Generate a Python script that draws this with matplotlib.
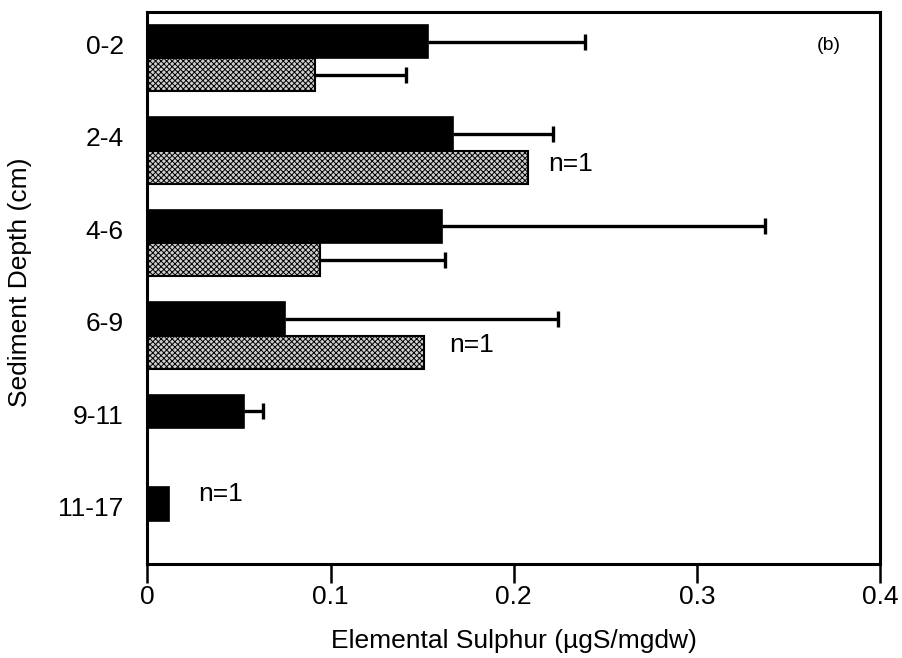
import matplotlib
matplotlib.use("Agg")
import matplotlib.pyplot as plt
import numpy as np

# Sediment depth intervals (cm), top to bottom
depths = ["0-2", "2-4", "4-6", "6-9", "9-11", "11-17"]

# Series A (solid black): mean and upper error
dark_mean = [0.153, 0.167, 0.161, 0.075, 0.0527, 0.0117]
dark_err = [0.086, 0.0545, 0.176, 0.149, 0.0103, 0.0]

# Series B (stippled grey): mean and upper error (no sample below 9 cm)
light_mean = [0.0915, 0.208, 0.094, 0.151]
light_err = [0.0495, 0.0, 0.0685, 0.0]

# Annotations of single-sample bars: (depth index, series, x position, y shift)
n_notes = [(1, "light", 0.219, -0.04), (3, "light", 0.165, -0.08), (5, "dark", 0.0275, -0.11)]

plt.rcParams["font.family"] = ["Liberation Sans", "DejaVu Sans"]
plt.rcParams["hatch.linewidth"] = 0.7

fig = plt.figure(figsize=(9.02, 6.58), dpi=100)
ax = fig.add_axes([0.1635, 0.1429, 0.8121, 0.8389])

h = 0.36
pos = np.arange(len(depths))
dark_y = pos - h / 2
light_y = pos[:len(light_mean)] + h / 2

ax.barh(dark_y, dark_mean, height=h, color="black", edgecolor="black", linewidth=1.2)
ax.barh(light_y, light_mean, height=h, color="#cfcfcf", edgecolor="black",
        linewidth=1.5, hatch="xxxxxx")


def upper_errors(ax, means, errs, ys):
    """One-sided (upper) error bars: a line from the bar end to a capped tip."""
    means = np.asarray(means)
    errs = np.asarray(errs)
    ys = np.asarray(ys)
    sel = errs > 0
    tips = means[sel] + errs[sel]
    ax.hlines(ys[sel], means[sel], tips, color="black", linewidth=2.4, zorder=3)
    ax.plot(tips, ys[sel], linestyle="none", marker="|", markersize=12,
            markeredgewidth=2.4, color="black", zorder=3)


upper_errors(ax, dark_mean, dark_err, dark_y)
upper_errors(ax, light_mean, light_err, light_y)

for idx, series, xpos, dy in n_notes:
    base = light_y[idx] if series == "light" else dark_y[idx]
    ax.text(xpos, base + dy, "n=1", fontsize=19, va="center", ha="left")

ax.text(0.372, -0.14, "(b)", fontsize=14, ha="center", va="center")

ax.set_xlim(0, 0.4)
ax.set_ylim(5.47, -0.5)
ax.set_xticks([0, 0.1, 0.2, 0.3, 0.4])
ax.set_xticklabels(["0", "0.1", "0.2", "0.3", "0.4"])
ax.set_yticks(pos - 0.15)
ax.set_yticklabels(depths)

ax.tick_params(axis="x", direction="out", length=13.5, width=1.8, labelsize=19, pad=2)
ax.tick_params(axis="y", length=0, labelsize=19, pad=17)
for s in ax.spines.values():
    s.set_linewidth(2.2)

ax.set_xlabel("Elemental Sulphur (µgS/mgdw)", fontsize=19, labelpad=14)
ax.set_ylabel("Sediment Depth (cm)", fontsize=19)
ax.yaxis.set_label_coords(-0.158, 0.51)

fig.savefig("out.png", dpi=100)
